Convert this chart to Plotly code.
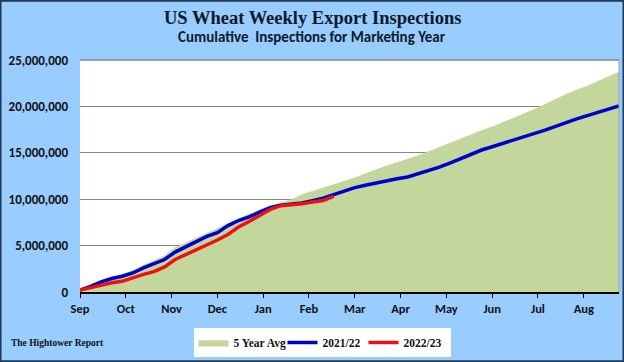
import plotly.graph_objects as go

weeks = list(range(52))
month_labels = ["Sep", "Oct", "Nov", "Dec", "Jan", "Feb", "Mar", "Apr", "May", "Jun", "Jul", "Aug"]
month_ticks = [m * 52 / 12 for m in range(12)]

avg5 = [0.1, 0.6, 1.1, 1.55, 1.9, 2.35, 2.9, 3.4, 3.9, 4.8, 5.3, 5.8, 6.3, 6.8, 7.35, 7.9,
        8.4, 8.9, 9.3, 9.6, 9.95, 10.5, 10.85, 11.2, 11.55, 11.9, 12.3, 12.75, 13.2, 13.6,
        13.95, 14.3, 14.7, 15.15, 15.6, 16.1, 16.5, 17.0, 17.4, 17.8, 18.25, 18.7, 19.2,
        19.7, 20.25, 20.8, 21.3, 21.8, 22.2, 22.7, 23.2, 23.7]
y2122 = [0.2, 0.6, 1.1, 1.45, 1.7, 2.05, 2.6, 3.05, 3.5, 4.3, 4.9, 5.5, 6.0, 6.4, 7.15, 7.7,
         8.1, 8.6, 9.1, 9.35, 9.45, 9.6, 9.85, 10.1, 10.5, 10.9, 11.25, 11.5, 11.75, 11.95,
         12.2, 12.4, 12.75, 13.15, 13.45, 13.9, 14.35, 14.9, 15.3, 15.65, 16.0, 16.35, 16.7,
         17.1, 17.45, 17.85, 18.3, 18.65, 19.0, 19.35, 19.7, 20.05]
y2223 = [0.2, 0.45, 0.75, 1.0, 1.15, 1.55, 1.9, 2.2, 2.7, 3.5, 4.0, 4.6, 5.0, 5.6, 6.2, 7.0,
         7.6, 8.2, 8.9, 9.3, 9.4, 9.5, 9.7, 9.85, 10.3]

M = 1_000_000
fig = go.Figure()
fig.add_trace(go.Scatter(x=weeks, y=[v * M for v in avg5], name="5 Year Avg", mode="lines",
                         fill="tozeroy", fillcolor="#C3D69B", line=dict(color="#C3D69B", width=0.5),
                         legendwidth=44))
fig.add_trace(go.Scatter(x=weeks[:len(y2122)], y=[v * M for v in y2122], name="2021/22", mode="lines",
                         line=dict(color="#0000CC", width=3.5), legendwidth=36))
fig.add_trace(go.Scatter(x=weeks[:len(y2223)], y=[v * M for v in y2223], name="2022/23", mode="lines",
                         line=dict(color="#EE1111", width=3.5), legendwidth=42))

sans = "Carlito, Lato, Calibri, sans-serif"
tickfont = dict(family=sans, size=13, color="#111111", weight="bold")
PW, PH = 539, 232
fig.update_layout(
    width=624, height=362,
    paper_bgcolor="#99CCFF", plot_bgcolor="white",
    margin=dict(l=80, r=5, t=60, b=70),
    xaxis=dict(range=[0, 51], tickvals=month_ticks, ticktext=month_labels, showgrid=False,
               showline=True, linecolor="black", linewidth=1.5, ticks="outside", ticklen=4,
               tickcolor="black", tickfont=dict(family=sans, size=12.5, color="#111111", weight="bold"),
               zeroline=False),
    yaxis=dict(range=[0, 25 * M], tickvals=[0, 5 * M, 10 * M, 15 * M, 20 * M, 25 * M],
               ticktext=["0", "5,000,000", "10,000,000", "15,000,000", "20,000,000", "25,000,000"],
               showgrid=True, gridcolor="#868686", gridwidth=1, zeroline=False, showline=False,
               tickfont=tickfont, ticks="", ticklabelstandoff=11),
    legend=dict(orientation="h", x=(322 - 80) / PW, y=-36 / PH, xanchor="center", yanchor="top",
                bgcolor="white", font=dict(family="Liberation Serif, serif", size=11.5, color="#111111",
                                           weight="bold"),
                itemwidth=30, tracegroupgap=0, traceorder="normal"),
    showlegend=True,
    shapes=[
        dict(type="line", xref="paper", yref="paper", x0=0, x1=1, y0=1, y1=1,
             line=dict(color="#868686", width=1.5)),
        dict(type="line", xref="paper", yref="paper", x0=1, x1=1, y0=0, y1=1,
             line=dict(color="#A0A0A0", width=1)),
        dict(type="rect", xref="paper", yref="paper", x0=-80 / PW + 0.001, x1=544 / PW - 0.001,
             y0=-70 / PH + 0.003, y1=292 / PH - 0.003, line=dict(color="#1F3B57", width=2),
             fillcolor="rgba(0,0,0,0)"),
    ],
    annotations=[
        dict(text="<b>US Wheat Weekly Export Inspections</b>", xref="paper", yref="paper",
             x=(312 - 80) / PW, y=(292 - 18) / PH, xanchor="center", yanchor="middle", showarrow=False,
             font=dict(family="Liberation Serif, serif", size=18.5, color="#0D1A2B")),
        dict(text="<b>Cumulative  Inspections for Marketing Year</b>", xref="paper", yref="paper",
             x=(312 - 80) / PW, y=(292 - 37) / PH, xanchor="center", yanchor="middle", showarrow=False,
             font=dict(family=sans, size=15, color="#0D1A2B")),
        dict(text="<b>The Hightower Report</b>", xref="paper", yref="paper",
             x=-71 / PW, y=-51 / PH, xanchor="left", yanchor="middle", showarrow=False,
             font=dict(family="Liberation Serif, serif", size=9.5, color="#111111")),
    ],
)
fig.write_html("out.html", config={"displayModeBar": False},
               post_script="document.body.style.margin='0';")
